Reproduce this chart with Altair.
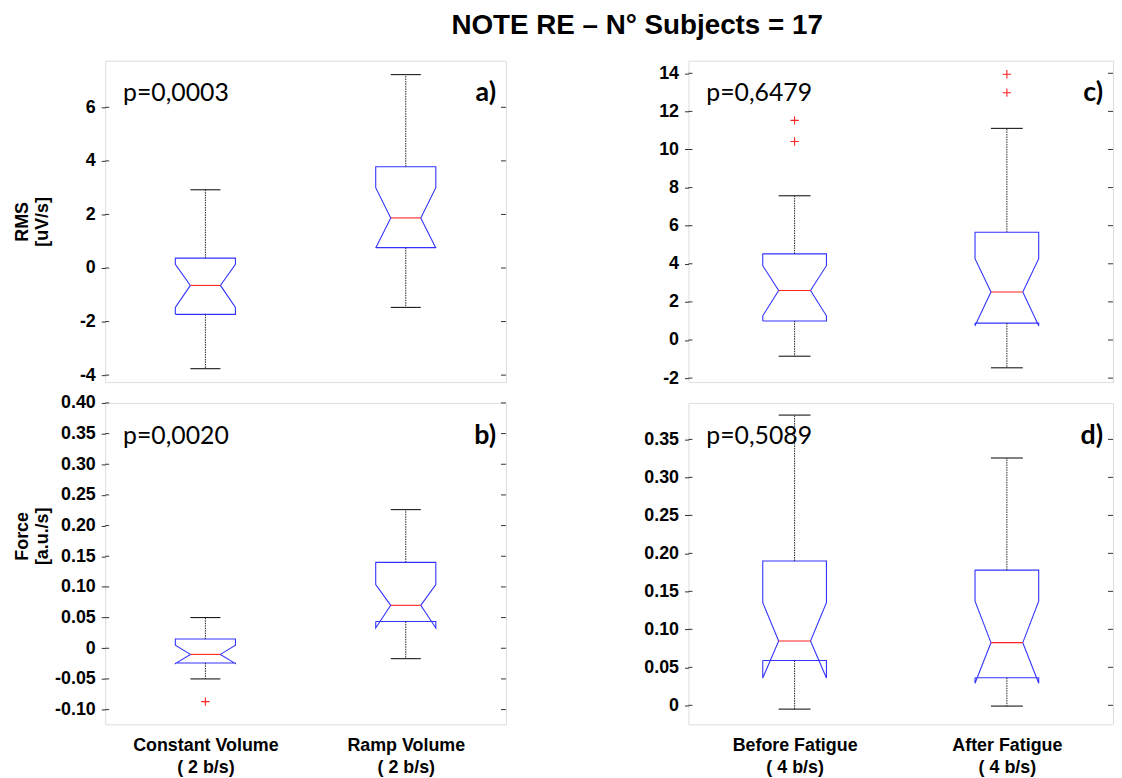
import altair as alt
import pandas as pd

TITLE = "NOTE RE – N° Subjects = 17"

# ---------- panel a : RMS, constant vs ramp ----------
a_q1 = [-1.73, 0.76]
a_q3 = [0.37, 3.78]
a_med = [-0.65, 1.87]
a_nlo = [-1.47, 0.75]
a_nhi = [0.14, 3.00]
a_wlo = [-3.76, -1.47]
a_whi = [2.92, 7.22]
a_out_g = []
a_out_v = []
a_ticks = [-4, -2, 0, 2, 4, 6]
a_domain = [-4.26, 7.74]

# ---------- panel b : Force, constant vs ramp ----------
b_q1 = [-0.024, 0.0437]
b_q3 = [0.015, 0.140]
b_med = [-0.010, 0.070]
b_nlo = [-0.025, 0.033]
b_nhi = [0.005, 0.104]
b_wlo = [-0.050, -0.017]
b_whi = [0.050, 0.226]
b_out_g = [1]
b_out_v = [-0.087]
b_ticks = [-0.10, -0.05, 0, 0.05, 0.10, 0.15, 0.20, 0.25, 0.30, 0.35, 0.40]
b_domain = [-0.124, 0.40]

# ---------- panel c : RMS, before vs after fatigue ----------
c_q1 = [1.00, 0.885]
c_q3 = [4.52, 5.66]
c_med = [2.60, 2.52]
c_nlo = [1.27, 0.75]
c_nhi = [3.90, 4.27]
c_wlo = [-0.85, -1.46]
c_whi = [7.57, 11.11]
c_out_g = [1, 1, 2, 2]
c_out_v = [11.53, 10.42, 13.95, 12.98]
c_ticks = [-2, 0, 2, 4, 6, 8, 10, 12, 14]
c_domain = [-2.21, 14.66]

# ---------- panel d : Force, before vs after fatigue ----------
d_q1 = [0.0589, 0.0362]
d_q3 = [0.190, 0.178]
d_med = [0.0846, 0.0825]
d_nlo = [0.036, 0.029]
d_nhi = [0.135, 0.137]
d_wlo = [-0.005, -0.001]
d_whi = [0.382, 0.3255]
d_out_g = []
d_out_v = []
d_ticks = [0, 0.05, 0.10, 0.15, 0.20, 0.25, 0.30, 0.35]
d_domain = [-0.025, 0.398]

left_cats = ["Constant Volume", "Ramp Volume"]
left_rate = "( 2 b/s)"
right_cats = ["Before Fatigue", "After Fatigue"]
right_rate = "( 4 b/s)"

p_texts = ["p=0,0003", "p=0,0020", "p=0,6479", "p=0,5089"]
letters = ["a)", "b)", "c)", "d)"]
y_titles = [["RMS", "[uV/s]"], ["Force", "[a.u./s]"]]

HW = 0.15   # box half width (x units)
NW = 0.075  # notch / cap half width
BLUE = "#3333ff"
RED = "#ff2222"
FONT = "Liberation Sans"


def panel(q1, q3, med, nlo, nhi, wlo, whi, og, ov, ticks, domain, ptext, letter,
          width, height, ytitle=None, ytitleY=None, xlabels=None, fmt="int"):
    rows = []
    for i in range(len(q1)):
        c = i + 1
        pts = [(c - HW, q1[i]), (c - HW, nlo[i]), (c - NW, med[i]), (c - HW, nhi[i]),
               (c - HW, q3[i]), (c + HW, q3[i]), (c + HW, nhi[i]), (c + NW, med[i]),
               (c + HW, nlo[i]), (c + HW, q1[i]), (c - HW, q1[i])]
        for k, (x, y) in enumerate(pts):
            rows.append({"g": c, "k": k, "x": x, "y": y})
    poly = pd.DataFrame(rows)

    stats = pd.DataFrame({
        "g": [i + 1 for i in range(len(q1))],
        "l": [i + 1 - NW for i in range(len(q1))],
        "r": [i + 1 + NW for i in range(len(q1))],
        "q1": q1, "q3": q3, "med": med, "wlo": wlo, "whi": whi,
    })
    outs = pd.DataFrame({"g": og, "v": ov})
    tick_df = pd.DataFrame({"t": ticks})

    if fmt == "int":
        lexpr = "(datum.value < 0 ? '-' : '') + format(abs(datum.value), 'd')"
    else:
        lexpr = "datum.value == 0 ? '0' : (datum.value < 0 ? '-' : '') + format(abs(datum.value), '.2f')"

    ax_kw = dict(values=ticks, labelExpr=lexpr, tickSize=4, tickColor="#333333",
                 domain=False, grid=False, labelFont=FONT, labelFontSize=18,
                 labelFontWeight="bold", labelColor="black", labelPadding=6)
    if ytitle is not None:
        ax_kw.update(title=ytitle, titleX=-92, titleY=ytitleY, titleAngle=-90,
                     titleBaseline="top", titleAlign="center", titleFont=FONT,
                     titleFontSize=18, titleFontWeight="bold", titleColor="black",
                     titleLineHeight=20)
    else:
        ax_kw.update(title=None)
    yaxis = alt.Axis(**ax_kw)
    yscale = alt.Scale(domain=domain, nice=False, zero=False)

    if xlabels is not None:
        expr = "datum.value == 1 ? ['%s', '%s'] : ['%s', '%s']" % (
            xlabels[0][0], xlabels[0][1], xlabels[1][0], xlabels[1][1])
        xaxis = alt.Axis(values=[1, 2], labelExpr=expr, ticks=False, domain=False,
                         grid=False, title=None, labelFont=FONT, labelFontSize=18,
                         labelFontWeight="bold", labelColor="black", labelPadding=12,
                         labelLineHeight=23, labelBaseline="top")
    else:
        xaxis = alt.Axis(labels=False, ticks=False, domain=False, grid=False, title=None)
    xscale = alt.Scale(domain=[0.5, 2.5], nice=False, zero=False)

    def X(f):
        return alt.X(f, type="quantitative", scale=xscale, axis=xaxis)

    def Y(f):
        return alt.Y(f, type="quantitative", scale=yscale, axis=yaxis)

    box = alt.Chart(poly).mark_line(color=BLUE, strokeWidth=1.1).encode(
        x=X("x"), y=Y("y"), detail="g:N", order=alt.Order("k:Q"))
    medr = alt.Chart(stats).mark_rule(color=RED, strokeWidth=1.1).encode(
        x=X("l"), x2="r", y=Y("med"))
    wh_top = alt.Chart(stats).mark_rule(color="#222222", strokeWidth=1, strokeDash=[1.5, 1]).encode(
        x=X("g"), y=Y("q3"), y2="whi")
    wh_bot = alt.Chart(stats).mark_rule(color="#222222", strokeWidth=1, strokeDash=[1.5, 1]).encode(
        x=X("g"), y=Y("q1"), y2="wlo")
    cap_top = alt.Chart(stats).mark_rule(color="black", strokeWidth=1).encode(
        x=X("l"), x2="r", y=Y("whi"))
    cap_bot = alt.Chart(stats).mark_rule(color="black", strokeWidth=1).encode(
        x=X("l"), x2="r", y=Y("wlo"))
    layers = [box, medr, wh_top, wh_bot, cap_top, cap_bot]
    if len(ov) > 0:
        pts = alt.Chart(outs).mark_point(
            shape="M-1,0L1,0M0,-1L0,1", size=70, color=RED, filled=False,
            strokeWidth=1.1, opacity=1).encode(x=X("g"), y=Y("v"))
        layers.append(pts)
    tick_l = alt.Chart(tick_df).mark_rule(color="#333333", strokeWidth=1).encode(
        x=alt.value(0), x2=alt.value(4), y=Y("t"))
    tick_r = alt.Chart(tick_df).mark_rule(color="#333333", strokeWidth=1).encode(
        x=alt.value(width - 5), x2=alt.value(width), y=Y("t"))
    ptxt = alt.Chart(pd.DataFrame({"s": [ptext]})).mark_text(
        font="Lato", fontSize=25, align="left", baseline="middle", color="black").encode(
        x=alt.value(18), y=alt.value(33), text="s:N")
    ltxt = alt.Chart(pd.DataFrame({"s": [letter]})).mark_text(
        font="Lato", fontSize=27, fontWeight="bold", align="right", baseline="middle",
        color="black").encode(x=alt.value(width - 10), y=alt.value(33), text="s:N")
    layers += [tick_l, tick_r, ptxt, ltxt]
    return alt.layer(*layers).properties(width=width, height=height)


LW, RW, H = 404, 428, 324

pa = panel(a_q1, a_q3, a_med, a_nlo, a_nhi, a_wlo, a_whi, a_out_g, a_out_v, a_ticks,
           a_domain, p_texts[0], letters[0], LW, H, ytitle=y_titles[0], ytitleY=H / 2)
pc = panel(c_q1, c_q3, c_med, c_nlo, c_nhi, c_wlo, c_whi, c_out_g, c_out_v, c_ticks,
           c_domain, p_texts[2], letters[2], RW, H)
pb = panel(b_q1, b_q3, b_med, b_nlo, b_nhi, b_wlo, b_whi, b_out_g, b_out_v, b_ticks,
           b_domain, p_texts[1], letters[1], LW, H, ytitle=y_titles[1], ytitleY=134,
           xlabels=[[left_cats[0], left_rate], [left_cats[1], left_rate]], fmt="2f")
pd_ = panel(d_q1, d_q3, d_med, d_nlo, d_nhi, d_wlo, d_whi, d_out_g, d_out_v, d_ticks,
            d_domain, p_texts[3], letters[3], RW, H,
            xlabels=[[right_cats[0], right_rate], [right_cats[1], right_rate]], fmt="2f")

chart = alt.concat(pa, pc, pb, pd_, columns=2, spacing={"row": 21, "column": 184},
                   bounds="flush").properties(
    title=alt.TitleParams(TITLE, font=FONT, fontSize=28, fontWeight="bold",
                          color="black", anchor="middle", dx=74, offset=20),
    padding={"left": 5, "top": 1, "right": 0, "bottom": 0},
).configure_view(stroke="#777777", strokeWidth=1.2).configure(background="white")

chart.save("out.html", embed_options={"renderer": "svg", "actions": False})
